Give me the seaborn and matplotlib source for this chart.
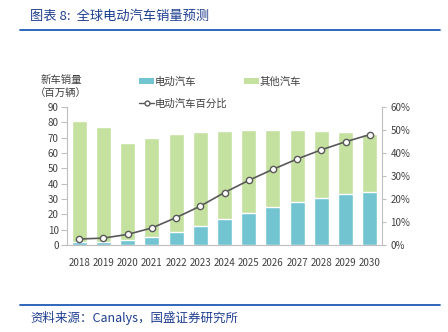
import matplotlib
matplotlib.use("Agg")
import matplotlib.pyplot as plt
import seaborn as sns
import pandas as pd
import numpy as np
from matplotlib.patches import Patch
from matplotlib.lines import Line2D

years = ["2018", "2019", "2020", "2021", "2022", "2023", "2024",
         "2025", "2026", "2027", "2028", "2029", "2030"]
total_sales = [80.8, 77.2, 66.8, 70.0, 72.4, 73.7, 74.3, 75.0, 75.3, 75.0, 74.6, 73.7, 72.6]
ev_sales = [2.0, 2.1, 3.0, 5.0, 8.5, 12.4, 16.7, 21.1, 24.8, 28.0, 30.7, 33.3, 34.8]
ev_share = [2.6, 3.0, 4.6, 7.4, 11.9, 16.9, 22.8, 28.1, 32.9, 37.4, 41.4, 44.9, 48.0]

df = pd.DataFrame({"year": years, "total": total_sales, "ev": ev_sales, "share": ev_share})

sns.set_theme(style="white")
plt.rcParams["font.family"] = ["Noto Sans CJK SC", "DejaVu Sans"]

EV_C = "#72C4D1"
OT_C = "#C5E1A0"
LINE_C = "#595959"
GRAY = "#BFBFBF"
TXT = "#404040"

fig = plt.figure(figsize=(4.48, 3.32), dpi=100)
ax = fig.add_axes([67/448, (332-245)/332, (382-67)/448, (245-107)/332])

sns.barplot(data=df, x="year", y="total", color=OT_C, width=0.62, ax=ax, saturation=1)
sns.barplot(data=df, x="year", y="ev", color=EV_C, width=0.62, ax=ax, saturation=1)
ax.set_xlim(-0.5, len(years) - 0.5)
ax.set_ylim(0, 90)
ax.set_yticks(range(0, 91, 10))
ax.set_xlabel("")
ax.set_ylabel("")
for s in ["top", "right"]:
    ax.spines[s].set_visible(False)
for s in ["left", "bottom"]:
    ax.spines[s].set_color(GRAY)
    ax.spines[s].set_linewidth(0.8)
ax.tick_params(axis="y", left=True, length=4, width=0.8, color=GRAY, labelsize=7, labelcolor=TXT, pad=2)
ax.tick_params(axis="x", bottom=False, labelsize=7, labelcolor=TXT, pad=3)

ax2 = ax.twinx()
sns.pointplot(data=df, x="year", y="share", color=LINE_C, ax=ax2, markers="o",
              markersize=4.5, linewidth=1.2, markerfacecolor="white",
              markeredgecolor=LINE_C, markeredgewidth=1.0)
ax2.set_xlim(-0.5, len(years) - 0.5)
ax2.set_ylim(0, 60)
ax2.set_yticks(range(0, 61, 10))
ax2.set_yticklabels([f"{v}%" for v in range(0, 61, 10)])
ax2.set_ylabel("")
ax2.set_xlabel("")
for s in ["top", "left", "bottom"]:
    ax2.spines[s].set_visible(False)
ax2.spines["right"].set_color(GRAY)
ax2.spines["right"].set_linewidth(0.8)
ax2.tick_params(axis="y", right=True, length=3, width=0.8, color=GRAY, labelsize=7, labelcolor=TXT, pad=3)

fig.text(61/448, 1 - 87/332, "新车销量\n（百万辆）", ha="center", va="center",
         fontsize=7.5, color=TXT, linespacing=1.4)

handles = [Patch(facecolor=EV_C, edgecolor="none"),
           Line2D([0], [0], color=LINE_C, lw=1.0, marker="o", markersize=3.5,
                  markerfacecolor="white", markeredgecolor=LINE_C),
           Patch(facecolor=OT_C, edgecolor="none")]
labels = ["电动汽车", "电动汽车百分比", "其他汽车"]
fig.legend(handles, labels, ncol=2, loc="upper left", bbox_to_anchor=(130/448, 1 - 67/332),
           frameon=False, fontsize=7.5, handlelength=1.4, handleheight=0.6,
           handletextpad=0.1, columnspacing=1.6, labelspacing=1.15, labelcolor=TXT)

TITLE_C = "#1F3F8F"
fig.text(30/448, 1 - 16/332, "图表 8:  全球电动汽车销量预测", ha="left", va="center",
         fontsize=9.5, color=TITLE_C, style="italic")
fig.add_artist(Line2D([20/448, 440/448], [1 - 30/332, 1 - 30/332], color="#1F5BB5", lw=1.3))
fig.add_artist(Line2D([20/448, 440/448], [1 - 305/332, 1 - 305/332], color="#1F5BB5", lw=1.3))
fig.text(30/448, 1 - 318/332, "资料来源：Canalys，国盛证券研究所", ha="left", va="center",
         fontsize=9, color=TITLE_C, style="italic")

fig.savefig("out.png", dpi=100)
